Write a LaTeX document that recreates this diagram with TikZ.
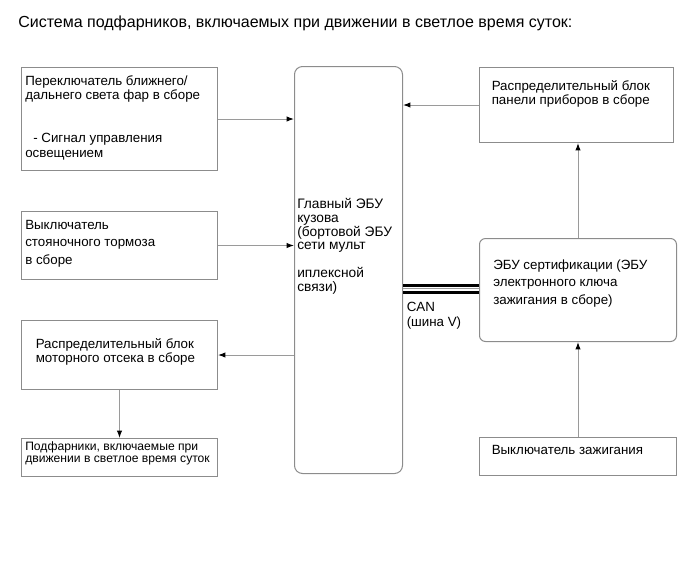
\documentclass[tikz,border=0pt]{standalone}
\usepackage{fontspec}
\setmainfont{Liberation Sans}
\usepackage{xcolor}
\definecolor{bGray}{HTML}{8C8C8C}
\definecolor{lGray}{HTML}{9A9A9A}
\usetikzlibrary{arrows.meta, positioning}

\begin{document}
\begin{tikzpicture}[
  x=0.75pt, y=-0.75pt,
  node distance=30pt,
  every node/.style={font=\fontsize{10}{13}\selectfont},
  blk/.style={rectangle, draw=bGray, line width=0.75pt, inner sep=0pt, minimum width=147pt},
  ecu/.style={blk, rounded corners=6pt},
  txt/.style={inner sep=0pt, align=left, anchor=base west},
  ar/.style={-{Latex[length=5.5pt, width=4pt, black]}, draw=lGray, line width=0.75pt},
  bus/.style={draw=black, line width=2pt}
]
\useasboundingbox (0,0) rectangle (690,562);

\node[txt, font=\fontsize{12}{14}\selectfont] (title) at (18,27.5)
  {Система подфарников, включаемых при движении в светлое время суток:};

% left column
\node[blk, minimum height=77.25pt, anchor=north west] (hlsw) at (21,67) {};
\node[blk, minimum height=51pt, below=of hlsw]   (pbrk) {};
\node[blk, minimum height=51.75pt, below=of pbrk] (ecjb) {};
\node[blk, minimum height=28.5pt, below=36pt of ecjb] (drl) {};

% main body ECU
\node[ecu, minimum width=81pt, minimum height=305.25pt, anchor=north west] (body) at (294,66) {};

% right column
\node[blk, minimum width=145.5pt, minimum height=56.25pt, anchor=north west] (ipjb) at (479,67) {};
\node[ecu, rounded corners=4.5pt, minimum width=147.75pt, minimum height=77.25pt,
      below=71.25pt of ipjb.south west, anchor=north west] (cert) {};
\node[blk, minimum width=147.75pt, minimum height=28.5pt, below=71.25pt of cert] (ign) {};

% texts (anchored on the last line)
\node[txt, font=\fontsize{10}{10.9}\selectfont] (hlswT) at (25,157)
  {Переключатель ближнего/\\дальнего света фар в сборе\\[21pt]
   \hspace*{6pt}- Сигнал управления\\освещением};
\node[txt, font=\fontsize{10}{13.1}\selectfont] (pbrkT) at (25,264)
  {Выключатель\\стояночного тормоза\\в сборе};
\node[txt, font=\fontsize{10}{10.5}\selectfont] (ecjbT) at (35.5,362)
  {Распределительный блок\\моторного отсека в сборе};
\node[txt, font=\fontsize{9.1}{8.8}\selectfont] (drlT) at (25,462)
  {Подфарники, включаемые при\\движении в светлое время суток};
\node[txt, font=\fontsize{10.3}{10.3}\selectfont] (bodyT) at (297,291)
  {Главный ЭБУ\\кузова\\(бортовой ЭБУ\\сети мульт\\[10.3pt]иплексной\\связи)};
\node[txt, font=\fontsize{10}{10}\selectfont] (ipjbT) at (491.5,104)
  {Распределительный блок\\панели приборов в сборе};
\node[txt, font=\fontsize{10}{13}\selectfont] (certT) at (493,304)
  {ЭБУ сертификации (ЭБУ\\электронного ключа\\зажигания в сборе)};
\node[txt] (ignT) at (491.5,454) {Выключатель зажигания};
\node[txt, font=\fontsize{10}{11}\selectfont] (canT) at (406.5,326)
  {CAN\\(шина V)};

% connectors
\draw[ar] (hlsw.east) -- (hlsw.east -| body.west);
\draw[ar] (pbrk.east) -- (pbrk.east -| body.west);
\draw[ar] (ecjb.east -| body.west) -- (ecjb.east);
\draw[ar] (ecjb) -- (drl);
\draw[ar] (ipjb.west) -- (ipjb.west -| body.east);
\draw[ar] (cert.north) -- (cert.north |- ipjb.south);
\draw[ar] (ign) -- (cert);

% CAN bus
\draw[bus] ([yshift=3.5pt]cert.west) -- ([yshift=3.5pt]cert.west -| body.east);
\draw[lGray, line width=0.75pt] ([yshift=0.8pt]cert.west) -- ([yshift=0.8pt]cert.west -| body.east);
\draw[bus] ([yshift=-1.8pt]cert.west) -- ([yshift=-1.8pt]cert.west -| body.east);
\end{tikzpicture}
\end{document}
